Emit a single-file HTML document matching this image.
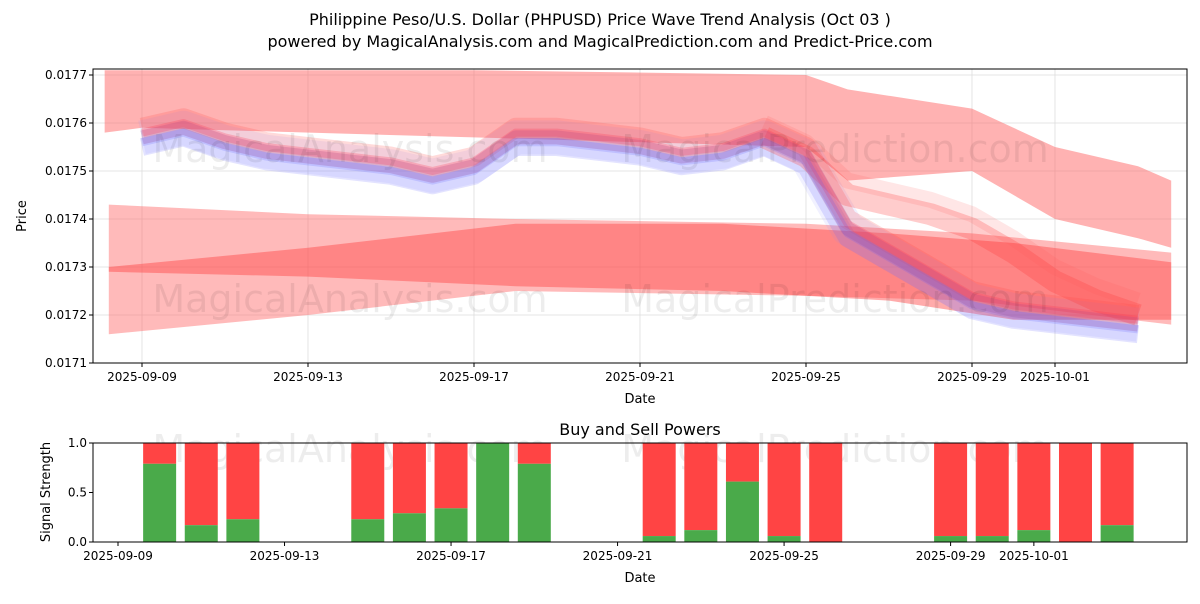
<!DOCTYPE html>
<html><head><meta charset="utf-8"><style>
body{margin:0;background:#fff;width:1200px;height:600px;overflow:hidden;font-family:"DejaVu Sans","Liberation Sans",sans-serif}
</style></head><body>
<svg id="chart" width="1200" height="600" font-family="DejaVu Sans, Liberation Sans, sans-serif">
<text x="600" y="25" text-anchor="middle" font-size="16">Philippine Peso/U.S. Dollar (PHPUSD) Price Wave Trend Analysis (Oct 03 )</text>
<text x="600" y="47" text-anchor="middle" font-size="16">powered by MagicalAnalysis.com and MagicalPrediction.com and Predict-Price.com</text>
<g id="topg"></g><g id="botg"></g>
</svg>
<script>
const NS='http://www.w3.org/2000/svg';
const dateLabels=['2025-09-09','2025-09-13','2025-09-17','2025-09-21','2025-09-25','2025-09-29','2025-10-01'];
const dateTickDays=[0,4,8,12,16,20,22];
const priceTicks=[0.0171,0.0172,0.0173,0.0174,0.0175,0.0176,0.0177];
const priceDays=[0,1,2,3,4,5,6,7,8,9,10,11,12,13,14,15,16,17,18,19,20,21,22,23,24];
const priceVals=[0.01757,0.01759,0.01756,0.01754,0.01753,0.01752,0.01751,0.01749,0.01751,0.01757,0.01757,0.01756,0.01755,0.01753,0.01754,0.01757,0.01753,0.01738,0.01733,0.01728,0.01723,0.01721,0.0172,0.01719,0.01718];
const wave2Days=[15,16,17,18,19,20,21,22,23,24];
const wave2Vals=[0.01757,0.01753,0.01745,0.01743,0.01741,0.01738,0.01733,0.01727,0.01723,0.0172];
const upperDays=[-0.9,0,8,16,17,20,22,24,24.8];
const upperTop=[0.01771,0.01771,0.01771,0.0177,0.01767,0.01763,0.01755,0.01751,0.01748];
const upperBot=[0.01758,0.01759,0.01757,0.01755,0.01748,0.0175,0.0174,0.01736,0.01734];
const lowDays=[-0.8,4,9,16,20,24.8];
const lowTop=[0.01743,0.01741,0.0174,0.01739,0.01737,0.01733];
const lowBot=[0.01716,0.0172,0.01725,0.01724,0.01723,0.01718];
const midDays=[-0.8,4,9,14,18,21,24.8];
const midTop=[0.0173,0.01734,0.01739,0.01739,0.01737,0.01735,0.01731];
const midBot=[0.01729,0.01728,0.01726,0.01725,0.01723,0.01719,0.01719];
const barDays=[1,2,3,6,7,8,9,10,13,14,15,16,17,20,21,22,23,24];
const buyVals=[0.79,0.17,0.23,0.23,0.29,0.34,1.0,0.79,0.06,0.12,0.61,0.06,0,0.06,0.06,0.12,0,0.17];
const sigTicks=[0,0.5,1.0];

const T={x0:93,x1:1187,y0:69,y1:363};
const xT=d=>142+d*41.5;
const yT=v=>363-(v-0.0171)*480000;
const B={x0:93,x1:1187,y0:443,y1:542};
const xB=d=>118+d*41.63;
const yB=v=>542-v*99;
function el(t,a,p){const e=document.createElementNS(NS,t);for(const k in a)e.setAttribute(k,a[k]);p.appendChild(e);return e;}
const topG=document.getElementById('topg'),botG=document.getElementById('botg');
function band(days,tp,bt,fill,op){
  let pts=days.map((d,i)=>xT(d)+','+yT(tp[i]));
  for(let i=days.length-1;i>=0;i--)pts.push(xT(days[i])+','+yT(bt[i]));
  const p=el('polygon',{points:pts.join(' '),fill:fill,'fill-opacity':op},topG);
  
  
}
priceTicks.forEach(v=>{const l=el('line',{x1:T.x0,x2:T.x1,y1:yT(v),y2:yT(v),stroke:'#ddd','stroke-width':0.8},topG);});
dateTickDays.forEach(d=>{const l=el('line',{x1:xT(d),x2:xT(d),y1:T.y0,y2:T.y1,stroke:'#ddd','stroke-width':0.8},topG);});
band(upperDays,upperTop,upperBot,'#ff6666',0.5);
band(lowDays,lowTop,lowBot,'#ff6666',0.45);
band(midDays,midTop,midBot,'#ff4444',0.45);
function wave(days,vals,off,col,op,w){
  const pts=days.map((d,i)=>xT(d)+','+yT(vals[i]+off)).join(' ');
  const l=el('polyline',{points:pts,fill:'none',stroke:col,'stroke-opacity':op,'stroke-width':w,'stroke-linejoin':'round'},topG);
  
  
}
wave(priceDays,priceVals,0,'#8888ff',0.12,34);
wave(priceDays,priceVals,-0.00002,'#6666ff',0.18,18);
wave(priceDays,priceVals,0.00002,'#ff4444',0.2,20);
wave(wave2Days,wave2Vals,0,'#ff3333',0.25,22);
wave(wave2Days,wave2Vals,0.00003,'#ff5555',0.15,16);
wave(priceDays,priceVals,0,'#aa5599',0.3,14);
wave(priceDays,priceVals,0.00001,'#ff3355',0.25,8);
wave(priceDays,priceVals,-0.00001,'#5555ff',0.18,8);
[[350,150],[835,150],[350,300],[835,300]].forEach((p,i)=>{const t=el('text',{x:p[0],y:p[1]+12,'text-anchor':'middle','font-size':38,fill:'#000','fill-opacity':0.07},topG);t.textContent=i%2?'MagicalPrediction.com':'MagicalAnalysis.com';});
el('rect',{x:T.x0,y:T.y0,width:T.x1-T.x0,height:T.y1-T.y0,fill:'none',stroke:'#000','stroke-width':1},topG);
priceTicks.forEach(v=>{el('line',{x1:T.x0-4,x2:T.x0,y1:yT(v),y2:yT(v),stroke:'#000'},topG);const t=el('text',{x:T.x0-6,y:yT(v)+4,'text-anchor':'end','font-size':12},topG);t.textContent=v.toFixed(4);});
dateTickDays.forEach((d,i)=>{el('line',{x1:xT(d),x2:xT(d),y1:T.y1,y2:T.y1+4,stroke:'#000'},topG);const t=el('text',{x:xT(d),y:T.y1+18,'text-anchor':'middle','font-size':12},topG);t.textContent=dateLabels[i];});
let t=el('text',{x:640,y:403,'text-anchor':'middle','font-size':13},topG);t.textContent='Date';
t=el('text',{x:26,y:216,'text-anchor':'middle','font-size':13,transform:'rotate(-90 26 216)'},topG);t.textContent='Price';
t=el('text',{x:640,y:435,'text-anchor':'middle','font-size':16},botG);t.textContent='Buy and Sell Powers';
[[350,450],[835,450]].forEach((p,i)=>{const w=el('text',{x:p[0],y:p[1]+12,'text-anchor':'middle','font-size':38,fill:'#000','fill-opacity':0.07},botG);w.textContent=i?'MagicalPrediction.com':'MagicalAnalysis.com';});
barDays.forEach((d,i)=>{
  const x=xB(d)-16.5;
  const s=el('rect',{x:x,y:yB(1),width:33,height:yB(buyVals[i])-yB(1),fill:'#ff4444'},botG);
  
  
  const b=el('rect',{x:x,y:yB(buyVals[i]),width:33,height:yB(0)-yB(buyVals[i]),fill:'#4aaa4a'},botG);
  
  
});
el('rect',{x:B.x0,y:B.y0,width:B.x1-B.x0,height:B.y1-B.y0,fill:'none',stroke:'#000','stroke-width':1},botG);
sigTicks.forEach(v=>{el('line',{x1:B.x0-4,x2:B.x0,y1:yB(v),y2:yB(v),stroke:'#000'},botG);const s=el('text',{x:B.x0-6,y:yB(v)+4,'text-anchor':'end','font-size':12},botG);s.textContent=v.toFixed(1);});
dateTickDays.forEach((d,i)=>{el('line',{x1:xB(d),x2:xB(d),y1:B.y1,y2:B.y1+4,stroke:'#000'},botG);const s=el('text',{x:xB(d),y:B.y1+18,'text-anchor':'middle','font-size':12},botG);s.textContent=dateLabels[i];});
t=el('text',{x:640,y:582,'text-anchor':'middle','font-size':13},botG);t.textContent='Date';
t=el('text',{x:50,y:492,'text-anchor':'middle','font-size':13,transform:'rotate(-90 50 492)'},botG);t.textContent='Signal Strength';
</script>
</body></html>
